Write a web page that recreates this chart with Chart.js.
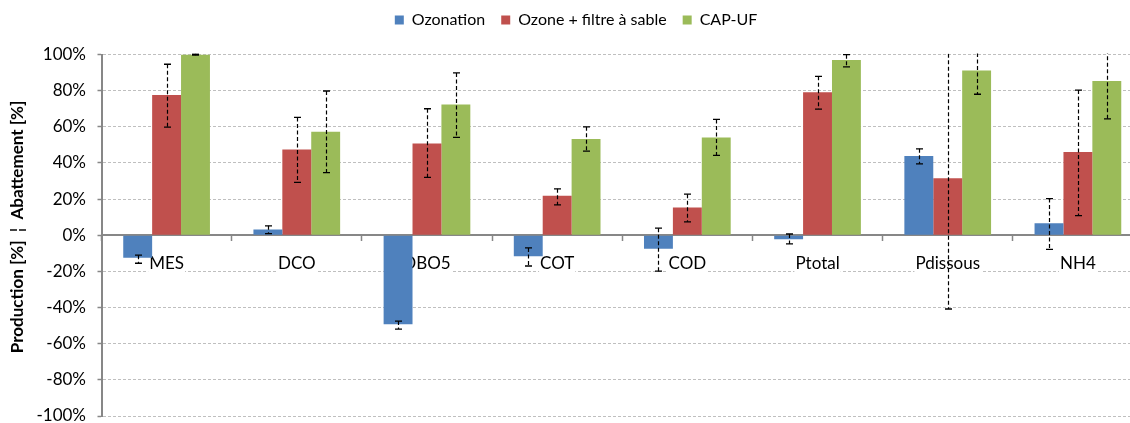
<!DOCTYPE html>
<html>
<head>
<meta charset="utf-8">
<script src="https://cdn.jsdelivr.net/npm/chart.js@4.4.1/dist/chart.umd.min.js"></script>
<style>
  html, body { margin: 0; padding: 0; background: #ffffff; overflow: hidden; }
  #wrap { width: 1143px; height: 423px; }
</style>
</head>
<body>
<div id="wrap"><canvas id="c" width="1143" height="423"></canvas></div>
<script>
const categories = ['MES', 'DCO', 'DBO5', 'COT', 'COD', 'Ptotal', 'Pdissous', 'NH4'];
const seriesNames = ['Ozonation', 'Ozone + filtre à sable', 'CAP-UF'];

const ozonation      = [-12.4, 3.2, -49.3, -11.6, -7.4, -2.2, 43.8, 6.6];
const ozonationLow   = [-15.5, 0.9, -51.9, -17.0, -19.9, -4.8, 39.5, -7.8];
const ozonationHigh  = [-11.0, 5.2, -47.5, -7.0, 3.9, 0.7, 47.8, 20.3];

const ozoneSable     = [77.6, 47.5, 50.8, 21.8, 15.3, 79.1, 31.6, 46.1];
const ozoneSableLow  = [59.8, 29.2, 32.0, 16.8, 7.4, 69.8, -40.8, 10.9];
const ozoneSableHigh = [94.6, 65.2, 70.0, 25.7, 22.7, 87.9, 104.0, 80.3];

const capUF          = [100.0, 57.2, 72.4, 53.2, 54.1, 97.0, 91.2, 85.3];
const capUFLow       = [99.6, 34.7, 54.1, 46.5, 44.2, 93.1, 78.0, 64.4];
const capUFHigh      = [100.4, 79.8, 89.8, 60.0, 64.1, 99.9, 104.4, 106.2];

const yTicks = [-100, -80, -60, -40, -20, 0, 20, 40, 60, 80, 100];
const yTitle = '    Production [%]  ¦  Abattement [%]';

const FONT = 'Lato, "Open Sans", sans-serif';
const AXIS_GRAY = '#878787';

const errorBars = [
  [ozonationLow, ozonationHigh],
  [ozoneSableLow, ozoneSableHigh],
  [capUFLow, capUFHigh]
];

const errorBarPlugin = {
  id: 'errorBars',
  afterDatasetsDraw(chart) {
    const ctx = chart.ctx;
    const area = chart.chartArea;
    const y = chart.scales.y;
    ctx.save();
    ctx.beginPath();
    ctx.rect(area.left, area.top - 1, area.right - area.left, area.bottom - area.top + 2);
    ctx.clip();
    chart.data.datasets.forEach((ds, i) => {
      const meta = chart.getDatasetMeta(i);
      const [lows, highs] = errorBars[i];
      meta.data.forEach((bar, j) => {
        const x = Math.round(bar.x) + 0.5;
        const yl = y.getPixelForValue(lows[j]);
        const yh = y.getPixelForValue(highs[j]);
        ctx.strokeStyle = '#000';
        ctx.lineWidth = 1.2;
        ctx.setLineDash([4, 2.5]);
        ctx.beginPath();
        ctx.moveTo(x, yh);
        ctx.lineTo(x, yl);
        ctx.stroke();
        ctx.setLineDash([]);
        ctx.lineWidth = 1.3;
        ctx.beginPath();
        ctx.moveTo(x - 3.5, yh); ctx.lineTo(x + 3.5, yh);
        ctx.moveTo(x - 3.5, yl); ctx.lineTo(x + 3.5, yl);
        ctx.stroke();
      });
    });
    ctx.restore();
  }
};

const barCommon = { barPercentage: 1.0, categoryPercentage: 0.666, borderWidth: 0, xAxisID: 'x', yAxisID: 'y' };

new Chart(document.getElementById('c'), {
  type: 'bar',
  data: {
    labels: categories,
    datasets: [
      Object.assign({ label: seriesNames[0], data: ozonation, backgroundColor: '#4F81BD' }, barCommon),
      Object.assign({ label: seriesNames[1], data: ozoneSable, backgroundColor: '#C0504D' }, barCommon),
      Object.assign({ label: seriesNames[2], data: capUF, backgroundColor: '#9BBB59' }, barCommon)
    ]
  },
  options: {
    responsive: false,
    animation: false,
    devicePixelRatio: 1,
    layout: { padding: { left: 9, right: 0, top: -4, bottom: 0 } },
    plugins: {
      legend: {
        position: 'top',
        align: 'center',
        labels: {
          boxWidth: 9,
          boxHeight: 9,
          padding: 16,
          color: '#000',
          font: { family: FONT, size: 16 }
        }
      },
      tooltip: { enabled: false }
    },
    scales: {
      spacer: {
        type: 'linear',
        axis: 'x',
        position: 'top',
        display: true,
        grid: { display: false, drawTicks: false },
        border: { display: false },
        ticks: { display: false },
        afterFit(s) { s.height = 16.5; s.paddingLeft = 0; s.paddingRight = 0; }
      },
      x: {
        type: 'category',
        position: { y: 0 },
        offset: true,
        z: 1,
        grid: {
          display: true,
          drawOnChartArea: false,
          offset: true,
          tickLength: 5,
          tickColor: AXIS_GRAY,
          tickWidth: 1.5
        },
        border: { display: true, color: AXIS_GRAY, width: 2 },
        ticks: {
          color: '#000',
          font: { family: FONT, size: 17 },
          padding: 13,
          maxRotation: 0,
          autoSkip: false,
          showLabelBackdrop: true,
          backdropColor: '#ffffff',
          backdropPadding: { top: 0, bottom: 0, left: 1, right: 1 }
        },
        afterFit(s) { s.paddingLeft = 0; s.paddingRight = 0; }
      },
      y: {
        type: 'linear',
        position: 'left',
        min: -100,
        max: 100,
        afterBuildTicks(s) { s.ticks = yTicks.map(v => ({ value: v })); },
        grid: {
          color: '#bfbfbf',
          lineWidth: 1,
          tickLength: 4,
          tickColor: AXIS_GRAY,
          tickWidth: 1.5
        },
        border: { display: true, color: AXIS_GRAY, width: 2, dash: [3, 2] },
        ticks: {
          color: '#000',
          font: { family: FONT, size: 17 },
          padding: 11.5,
          callback: v => v + '%'
        },
        title: {
          display: true,
          text: yTitle,
          color: '#000',
          font: { family: FONT, size: 17, weight: 'bold', lineHeight: 1 },
          padding: { top: 0.5, bottom: 0 }
        },
        afterFit(s) {
          s.width = 92.5;
          s.paddingTop = 0;
          s.paddingBottom = 7;
        }
      }
    }
  },
  plugins: [errorBarPlugin]
});
</script>
</body>
</html>
